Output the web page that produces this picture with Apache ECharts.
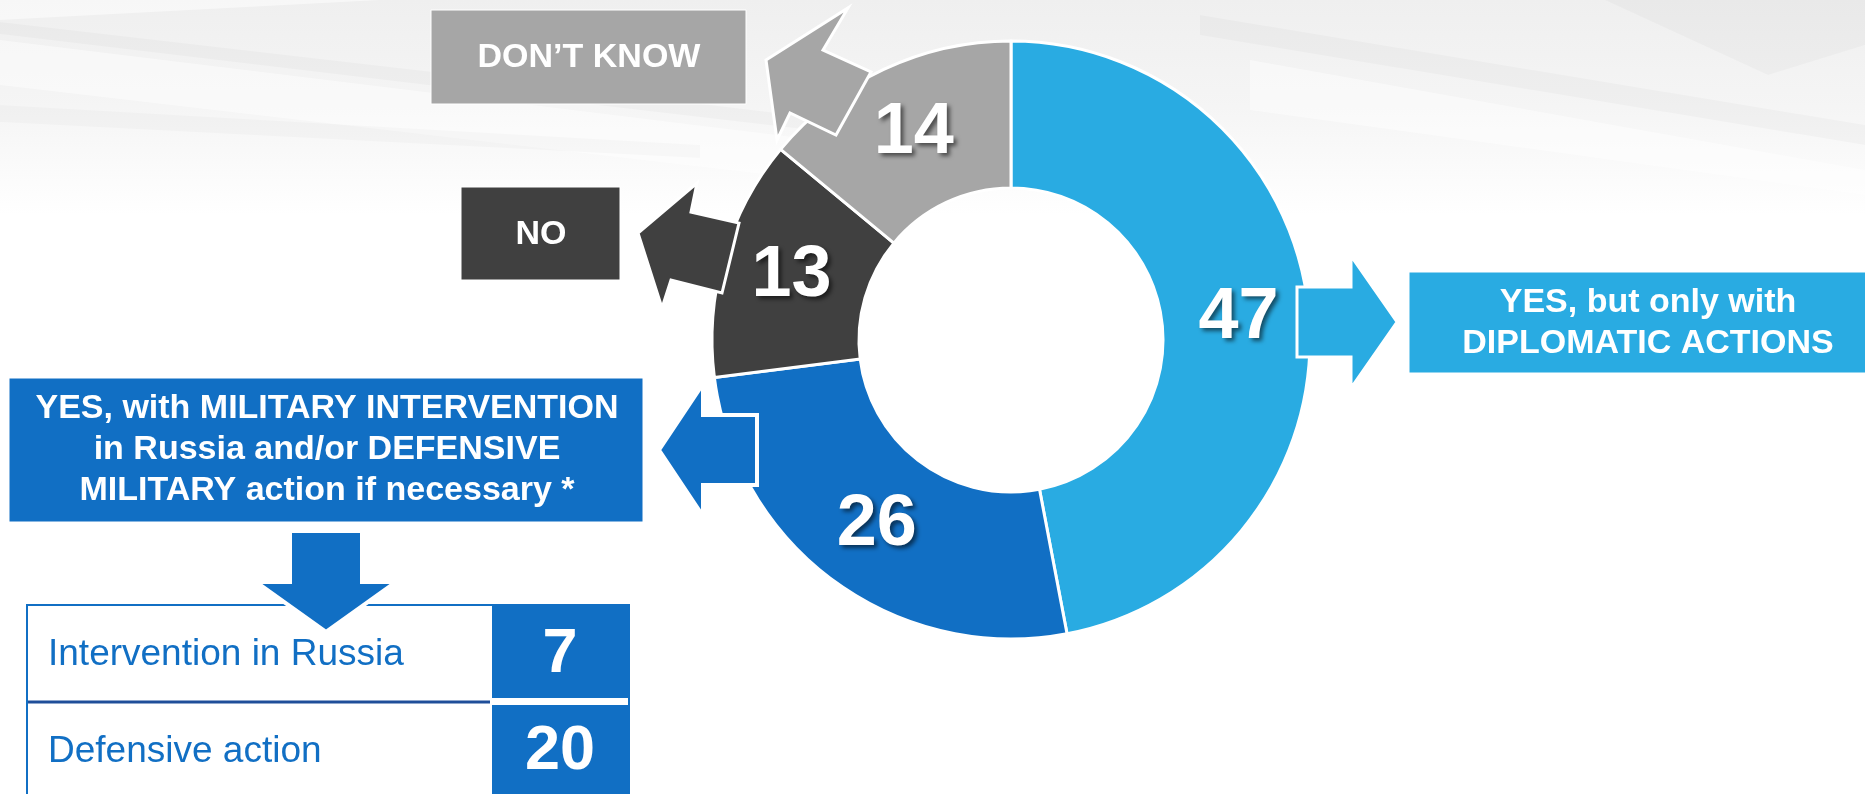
<!DOCTYPE html>
<html>
<head>
    <meta charset="utf-8">
    <title>ECharts</title>
    <script src="https://cdn.jsdelivr.net/npm/echarts@6/dist/echarts.min.js"></script>
    <style>
        html, body { margin: 0; padding: 0; background: #fff; }
    </style>
</head>
<body>
    <div id="main" style="width: 1865px;height:794px;"></div>
    <script type="text/javascript">
        // answers of the ring, clockwise from 12 o'clock
        var categories = ['YES, but only with\nDIPLOMATIC ACTIONS',
                          'YES, with MILITARY INTERVENTION\nin Russia and/or DEFENSIVE\nMILITARY action if necessary *',
                          'NO',
                          'DON\u2019T KNOW'];
        var values = [47, 26, 13, 14];
        var colors = ['#29abe2', '#116fc4', '#404040', '#a6a6a6'];

        // breakdown of the military answer
        var subCategories = ['Intervention in Russia', 'Defensive action'];
        var subValues = [7, 20];

        var FONT = "'Liberation Sans', Arial, sans-serif";
        var myChart = echarts.init(document.getElementById('main'));

        var pieData = [];
        for (var i = 0; i < values.length; i++) {
            pieData.push({ name: categories[i], value: values[i], itemStyle: { color: colors[i] } });
        }

        function txt(t, x, y, size, weight, color, align, lh) {
            return {
                type: 'text', z: 20,
                style: {
                    text: t, x: x, y: y, fill: color,
                    font: weight + ' ' + size + 'px ' + FONT,
                    align: align || 'center', verticalAlign: 'middle',
                    lineHeight: lh || size
                }
            };
        }
        function box(x, y, w, h, color) {
            return { type: 'rect', z: 5, shape: { x: x, y: y, width: w, height: h },
                     style: { fill: color, stroke: '#fff', lineWidth: 1 } };
        }
        function arrow(pts, color, lw) {
            return { type: 'polygon', z: 10, shape: { points: pts },
                     style: { fill: color, stroke: '#fff', lineWidth: lw || 3, lineJoin: 'miter' } };
        }
        function band(pts, fill) {
            return { type: 'polygon', z: -9, shape: { points: pts }, style: { fill: fill } };
        }

        var g = [];
        // faint grey streaks at the top of the slide
        g.push({ type: 'rect', z: -10, shape: { x: 0, y: 0, width: 1865, height: 215 },
                 style: { fill: { type: 'linear', x: 0, y: 0, x2: 0, y2: 1, colorStops: [
                     { offset: 0, color: '#efefef' }, { offset: 0.5, color: '#f5f5f5' },
                     { offset: 0.85, color: '#fcfcfc' }, { offset: 1, color: '#ffffff' }] } } });
        g.push(band([[0, 22], [520, 82], [1000, 140], [1000, 152], [520, 96], [0, 34]], 'rgba(0,0,0,0.025)'));
        g.push(band([[0, 40], [900, 150], [900, 190], [0, 85]], 'rgba(255,255,255,0.45)'));
        g.push(band([[0, 105], [700, 145], [700, 158], [0, 122]], 'rgba(0,0,0,0.02)'));
        g.push(band([[0, 0], [380, 0], [0, 20]], 'rgba(255,255,255,0.5)'));
        g.push(band([[1200, 15], [1865, 125], [1865, 145], [1200, 35]], 'rgba(0,0,0,0.025)'));
        g.push(band([[1250, 60], [1865, 170], [1865, 195], [1250, 110]], 'rgba(255,255,255,0.45)'));
        g.push(band([[1605, 0], [1768, 75], [1865, 45], [1865, 0]], 'rgba(0,0,0,0.025)'));

        // label boxes
        g.push(box(431, 10, 315, 94, colors[3]));
        g.push(txt(categories[3], 589, 58, 34, 'bold', '#fff'));
        g.push(box(461, 187, 159, 93, colors[2]));
        g.push(txt(categories[2], 541, 235, 34, 'bold', '#fff'));
        g.push(box(1409, 272, 460, 101, colors[0]));
        g.push(txt(categories[0], 1648, 323, 34, 'bold', '#fff', 'center', 41));
        g.push(box(9, 378, 634, 144, colors[1]));
        g.push(txt(categories[1], 327, 450, 34, 'bold', '#fff', 'center', 41));

        // arrows from the ring to the boxes
        g.push(arrow([[766, 60], [848, 8], [823, 50], [871, 72], [836, 135], [790, 113], [777, 140]], colors[3]));
        g.push(arrow([[638, 233], [697, 183], [691, 212], [739, 223], [722, 293], [671, 280], [662, 308]], colors[2]));
        g.push(arrow([[1397, 322], [1351, 256], [1351, 287], [1297, 287], [1297, 357], [1351, 357], [1351, 388]], colors[0]));
        g.push(arrow([[659, 450], [703, 384], [703, 415], [757, 415], [757, 485], [703, 485], [703, 516]], colors[1], 4));

        // breakdown table
        g.push({ type: 'rect', z: 6, shape: { x: 27, y: 605, width: 602, height: 220 },
                 style: { fill: '#fff', stroke: colors[1], lineWidth: 2 } });
        for (var k = 0; k < subValues.length; k++) {
            var rowTop = 605 + k * 100, cy = 655 + k * 97;
            g.push({ type: 'rect', z: 7, shape: { x: 492, y: rowTop, width: 137, height: k === 0 ? 93 : 120 },
                     style: { fill: colors[1] } });
            g.push(txt(subCategories[k], 48, cy, 37, 'normal', colors[1], 'left'));
            g.push(txt(String(subValues[k]), 560, cy, 63, 'bold', '#fff'));
        }
        g.push({ type: 'line', z: 7, shape: { x1: 28, y1: 702, x2: 490, y2: 702 },
                 style: { stroke: '#1f4e99', lineWidth: 3 } });
        g.push({ type: 'polygon', z: 12, shape: { points: [[290, 531], [362, 531], [362, 582], [396, 582], [326, 632], [256, 582], [290, 582]] },
                 style: { fill: colors[1], stroke: '#fff', lineWidth: 4 } });

        var option = {
            animation: false,
            backgroundColor: '#fff',
            graphic: { elements: g },
            series: [
                {
                    type: 'pie',
                    center: [1011, 340],
                    radius: [152, 299],
                    startAngle: 90,
                    clockwise: true,
                    avoidLabelOverlap: false,
                    z: 2,
                    itemStyle: { borderColor: '#fff', borderWidth: 3 },
                    label: {
                        show: true,
                        position: 'inside',
                        formatter: '{c}',
                        color: '#fff',
                        fontFamily: FONT,
                        fontWeight: 'bold',
                        fontSize: 72,
                        textShadowColor: 'rgba(0,0,0,0.55)',
                        textShadowBlur: 4,
                        textShadowOffsetX: 3,
                        textShadowOffsetY: 3
                    },
                    labelLine: { show: false },
                    data: pieData
                }
            ]
        };

        myChart.setOption(option);
    </script>
</body>
</html>
